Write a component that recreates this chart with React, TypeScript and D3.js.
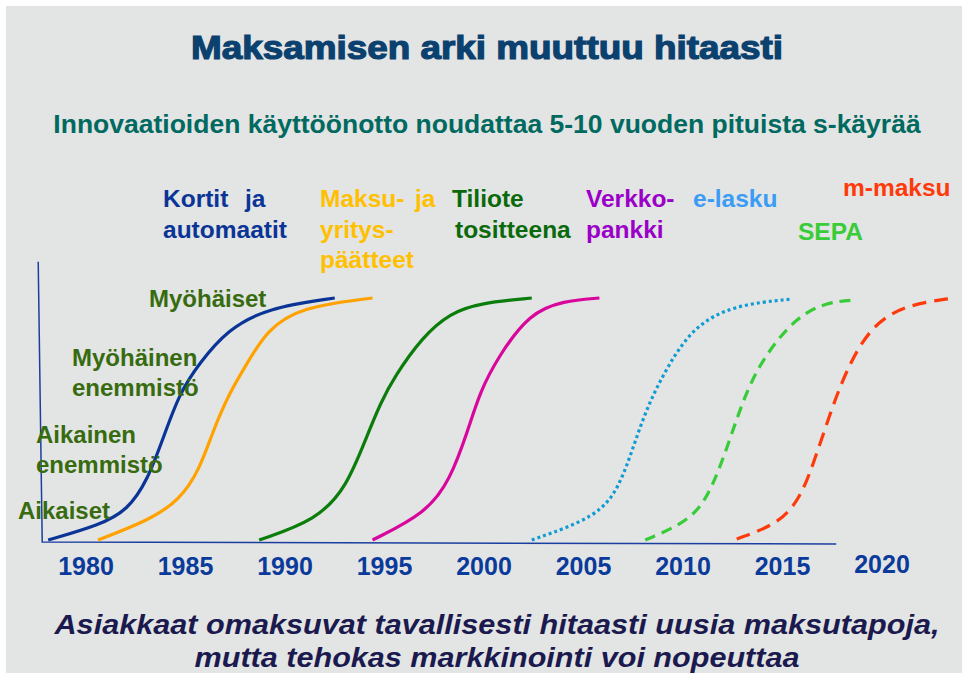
import React from "react";
import * as d3 from "d3";

const W = 962;
const H = 673;

const tickYears = [1980, 1985, 1990, 1995, 2000, 2005, 2010, 2015, 2020];

// adoption curves: [year, share of users %]
const kortit = [[1978.1, 0], [1980.7, 6.2], [1982.1, 12.4], [1983.1, 24.8], [1983.9, 42.6], [1984.7, 60.7], [1985.7, 73.1], [1987.1, 86.8], [1989.1, 95.9], [1992.5, 100]];
const maksupaatteet = [[1980.6, 0], [1983.2, 8.3], [1984.7, 16.5], [1985.7, 28.9], [1986.4, 45.5], [1987.2, 60.7], [1988.1, 73.1], [1989.1, 86.8], [1990.8, 96.3], [1994.4, 100]];
const tiliote = [[1988.7, 0], [1991.6, 8.3], [1993.1, 21.9], [1994.1, 42.6], [1994.8, 56.6], [1995.5, 67.5], [1996.9, 83.9], [1998.3, 93.8], [1999.8, 97.9], [2002.4, 100]];
const verkkopankki = [[1994.4, 0], [1997.1, 11.2], [1998.3, 24.8], [1999.2, 45.5], [1999.8, 61.2], [2000.7, 75.6], [2002.3, 93.8], [2004.0, 98.8], [2005.8, 100]];
const elasku = [[2002.4, 0], [2005.7, 9.5], [2006.8, 21.9], [2007.5, 38.4], [2008.2, 55.0], [2009.2, 71.5], [2010.5, 88.0], [2012.5, 97.1], [2015.5, 99.6]];
const sepa = [[2008.1, 0], [2010.5, 8.3], [2011.5, 21.9], [2012.4, 42.6], [2013.2, 62.0], [2014.2, 77.3], [2015.7, 92.1], [2017.2, 98.3], [2018.7, 99.2]];
const mmaksu = [[2012.7, 0.4], [2014.9, 7.0], [2015.9, 17.8], [2016.5, 30.2], [2017.4, 52.5], [2018.2, 70.2], [2019.4, 88.0], [2021.1, 97.1], [2023.6, 100]];

const seriesLabels = [
  ["Kortit", "automaatit"],
  ["Maksu-", "yritys-", "päätteet"],
  ["Tiliote", "tositteena"],
  ["Verkko-", "pankki"],
  ["e-lasku"],
  ["SEPA"],
  ["m-maksu"],
];

const adopterLabels = [
  ["Myöhäiset"],
  ["Myöhäinen", "enemmistö"],
  ["Aikainen", "enemmistö"],
  ["Aikaiset"],
];

const series = [
  { data: kortit, color: "#0a3596", dash: null, lbl: { x: 163, y: 207, extra: { text: "ja", x: 245 } } },
  { data: maksupaatteet, color: "#ffa200", lblColor: "#ffc000", dash: null, lbl: { x: 320, y: 207, extra: { text: "ja", x: 415 } } },
  { data: tiliote, color: "#0b7d0b", lblColor: "#0a6a0a", dash: null, lbl: { x: 452, y: 207, dx2: 3 } },
  { data: verkkopankki, color: "#d8069c", lblColor: "#9a00c8", dash: null, lbl: { x: 586, y: 207 } },
  { data: elasku, color: "#0f9bd4", lblColor: "#3a9cf5", dash: "3 3", lbl: { x: 693, y: 207 } },
  { data: sepa, color: "#38cc38", dash: "11 7", lbl: { x: 798, y: 240 } },
  { data: mmaksu, color: "#ff3a0a", dash: "14 8", lbl: { x: 843, y: 196 } },
];

const adopterPos = [
  { x: 149, y: 307 },
  { x: 72, y: 366 },
  { x: 36, y: 443 },
  { x: 18, y: 519 },
];

export default function App() {
  const x = d3.scaleLinear().domain([1980, 2020]).range([86, 882]);
  const y = d3.scaleLinear().domain([0, 100]).range([540, 298]);

  const line = d3
    .line<number[]>()
    .x((d) => x(d[0]))
    .y((d) => y(d[1]))
    .curve(d3.curveBasis);

  const base = y(0) + 2;
  const axisPath = `M${x(1977.8) - 4},${y(115)} L${x(1977.8)},${base} L${x(2017.7)},${base + 2}`;

  const font = "'Liberation Sans', Arial, sans-serif";

  return (
    <svg
      width={W}
      height={H}
      style={{ position: "absolute", left: 0, top: 0, fontFamily: font }}
    >
      <rect x={0} y={0} width={W} height={H} fill="#ffffff" />
      <rect x={6} y={6} width={W - 6} height={H - 6} fill="#e3e4e4" />

      {/* title */}
      <text
        x={487}
        y={59}
        textAnchor="middle"
        fontSize={33}
        fontWeight="bold"
        fill="#0b416f"
        stroke="#0b416f"
        strokeWidth={1.2}
        textLength={592}
        lengthAdjust="spacingAndGlyphs"
      >
        Maksamisen arki muuttuu hitaasti
      </text>
      <text x={487} y={133} textAnchor="middle" fontSize={26.5} fontWeight="bold" fill="#006a60">
        Innovaatioiden käyttöönotto noudattaa 5-10 vuoden pituista s-käyrää
      </text>

      {/* series labels */}
      {series.map((s, i) => (
        <text key={"l" + i} fontSize={24.5} fontWeight="bold" fill={s.lblColor || s.color}>
          {seriesLabels[i].map((t, j) => (
            <tspan key={j} x={s.lbl.x + (j > 0 && s.lbl.dx2 ? s.lbl.dx2 : 0)} y={s.lbl.y + j * 30.5}>
              {t}
            </tspan>
          ))}
          {s.lbl.extra && (
            <tspan x={s.lbl.extra.x} y={s.lbl.y}>
              {s.lbl.extra.text}
            </tspan>
          )}
        </text>
      ))}

      {/* axes */}
      <path d={axisPath} fill="none" stroke="#1a3fa0" strokeWidth={1.5} />

      {/* curves */}
      {series.map((s, i) => (
        <path
          key={"c" + i}
          d={line(s.data) || ""}
          fill="none"
          stroke={s.color}
          strokeWidth={3.2}
          strokeDasharray={s.dash || undefined}
        />
      ))}

      {/* adopter categories */}
      {adopterLabels.map((lines, i) => (
        <text key={"a" + i} fontSize={24} fontWeight="bold" fill="#376b0f">
          {lines.map((t, j) => (
            <tspan key={j} x={adopterPos[i].x} y={adopterPos[i].y + j * 30}>
              {t}
            </tspan>
          ))}
        </text>
      ))}

      {/* year ticks */}
      {tickYears.map((yr) => (
        <text
          key={yr}
          x={x(yr)}
          y={yr === 2020 ? 573 : 575}
          textAnchor="middle"
          fontSize={25}
          fontWeight="bold"
          fill="#0a3a9a"
        >
          {yr}
        </text>
      ))}

      {/* footer */}
      <text
        x={497}
        y={634}
        textAnchor="middle"
        fontSize={28}
        fontWeight="bold"
        fontStyle="italic"
        fill="#1b1a4e"
        textLength={885}
        lengthAdjust="spacingAndGlyphs"
      >
        Asiakkaat omaksuvat tavallisesti hitaasti uusia maksutapoja,
      </text>
      <text
        x={497}
        y={667}
        textAnchor="middle"
        fontSize={28}
        fontWeight="bold"
        fontStyle="italic"
        fill="#1b1a4e"
        textLength={605}
        lengthAdjust="spacingAndGlyphs"
      >
        mutta tehokas markkinointi voi nopeuttaa
      </text>
    </svg>
  );
}
